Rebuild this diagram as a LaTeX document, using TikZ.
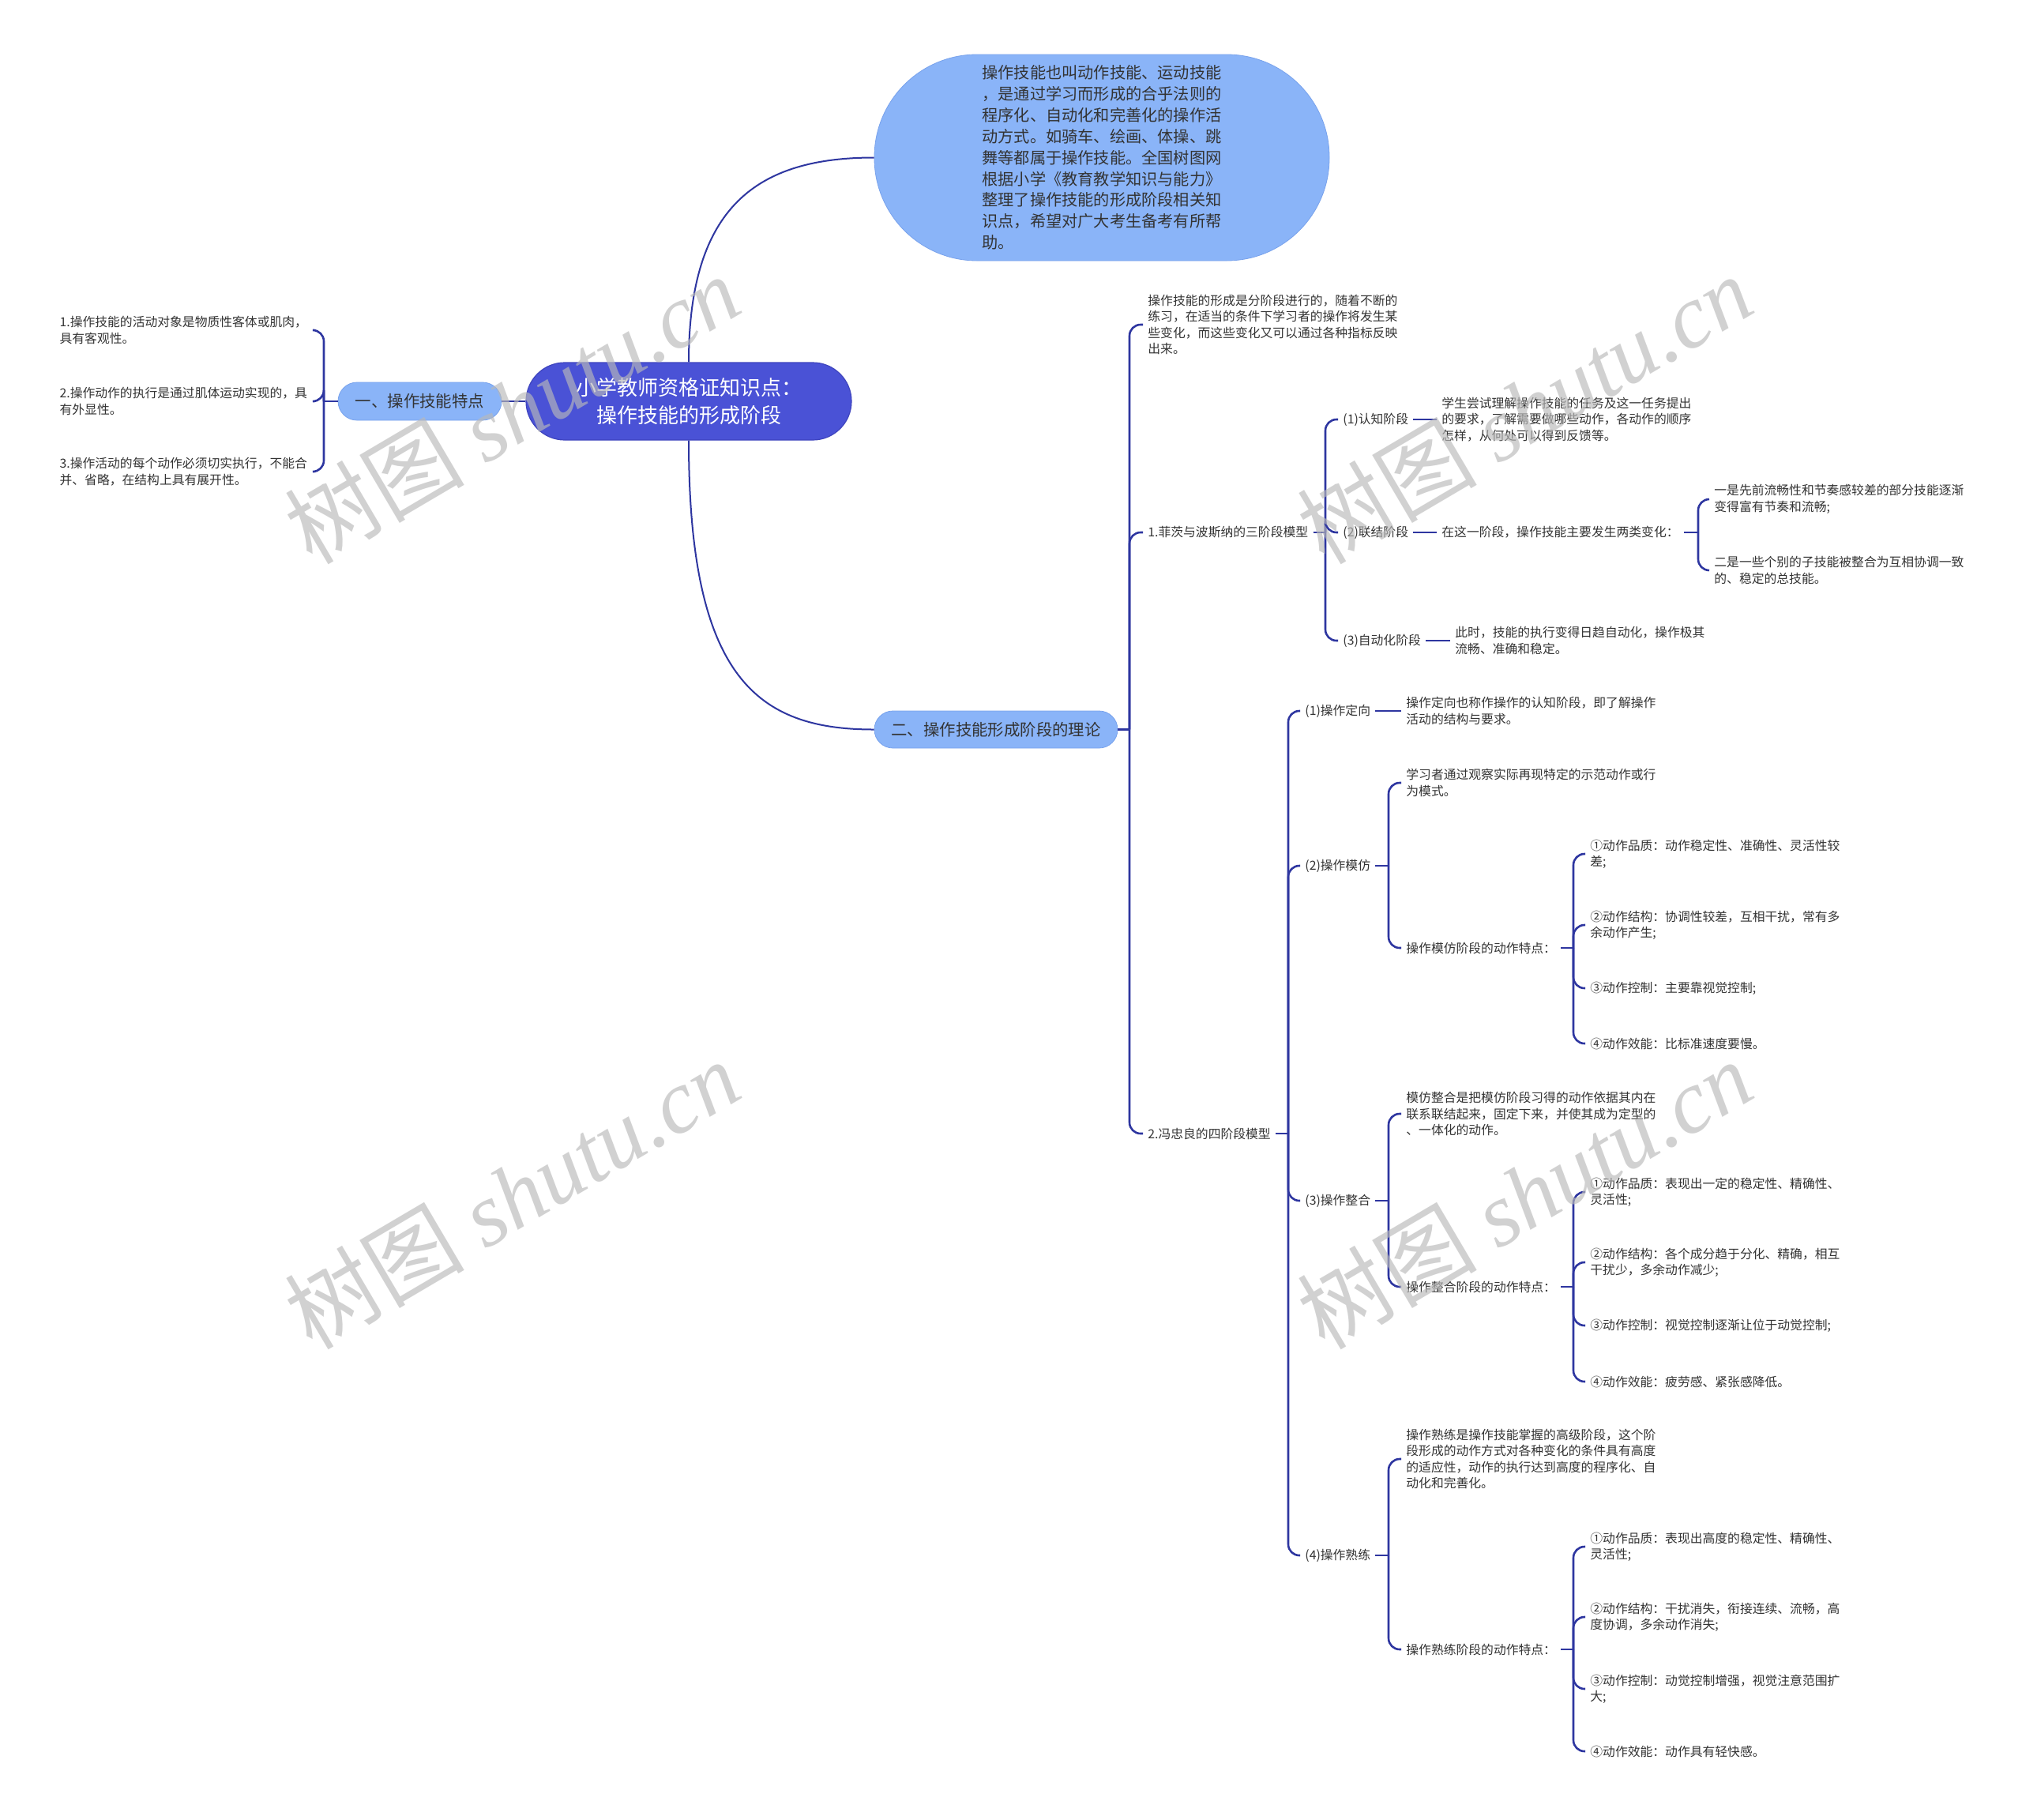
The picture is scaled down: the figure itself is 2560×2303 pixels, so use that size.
\documentclass[tikz,border=0pt]{standalone}
\usepackage{fontspec}
\setmainfont{Noto Sans CJK SC}
\newfontfamily\wmserif{Liberation Serif}
\usetikzlibrary{calc}
\definecolor{linec}{RGB}{46,54,160}
\definecolor{rootc}{RGB}{74,82,214}
\definecolor{rootb}{RGB}{62,68,190}
\definecolor{lightc}{RGB}{138,180,248}
\definecolor{lightb}{RGB}{120,162,236}
\definecolor{txtc}{RGB}{51,51,51}
\newcommand\rbk[3]{\draw[conn] (#1.east) -- (#3 |- #1.east);\draw[conn,rounded corners=7pt] (#3 |- #1.east) |- (#2.west);}
\newcommand\lbk[3]{\draw[conn] (#1.west) -- (#3 |- #1.west);\draw[conn,rounded corners=7pt] (#3 |- #1.west) |- (#2.east);}
\begin{document}
\begin{tikzpicture}[x=0.5pt,y=-0.5pt,
  conn/.style={draw=linec,line width=1.3pt},
  mainconn/.style={draw=linec,line width=1pt},
  leaf/.style={anchor=west,align=left,inner xsep=3pt,inner ysep=1pt,text=txtc,font=\fontsize{7.9pt}{10.2pt}\selectfont},
  leafl/.style={leaf,anchor=east,text width=158pt},
  rootnode/.style={draw=rootb,fill=rootc,text=white,line width=0.6pt,minimum width=206pt,minimum height=49pt,rounded corners=24.5pt,align=center,font=\fontsize{13pt}{17.5pt}\selectfont},
  subnode/.style={draw=lightb,fill=lightc,text=txtc,line width=0.4pt,minimum height=24pt,rounded corners=12pt,align=center,font=\fontsize{10.2pt}{12pt}\selectfont},
  wm/.style={text=gray!55,text opacity=0.65,rotate=30.5,font=\fontsize{57pt}{57pt}\selectfont}
]
\fill[white] (0,0) rectangle (2560,2303);
\useasboundingbox (0,0) rectangle (2560,2303);

% bracket coordinates
\coordinate (bL) at (410,0);
\coordinate (bTwo) at (1430,0);
\coordinate (bFitts) at (1678,0);
\coordinate (bF2) at (2150,0);
\coordinate (bFeng) at (1631,0);
\coordinate (bG) at (1758,0);
\coordinate (bGT) at (1992,0);

% main nodes
\node[rootnode] (root) at (872,508) {小学教师资格证知识点：\\操作技能的形成阶段};
\node[draw=lightb,fill=lightc,line width=0.4pt,minimum width=288pt,minimum height=130.5pt,rounded corners=65pt,align=left,text=txtc,font=\fontsize{10.1pt}{13.45pt}\selectfont] (intro) at (1395,199.5) {操作技能也叫动作技能、运动技能\\，是通过学习而形成的合乎法则的\\程序化、自动化和完善化的操作活\\动方式。如骑车、绘画、体操、跳\\舞等都属于操作技能。全国树图网\\根据小学《教育教学知识与能力》\\整理了操作技能的形成阶段相关知\\识点，希望对广大考生备考有所帮\\助。\hspace*{5pt}};
\node[subnode,minimum width=103.5pt] (one) at (531.5,508) {一、操作技能特点};
\node[subnode,minimum width=154pt,minimum height=23.5pt,rounded corners=11.75pt] (two) at (1261,923.5) {二、操作技能形成阶段的理论};

% left leaves
\node[leafl] (l1) at (398,418) {1.操作技能的活动对象是物质性客体或肌肉，\\具有客观性。};
\node[leafl] (l2) at (398,508) {2.操作动作的执行是通过肌体运动实现的，具\\有外显性。};
\node[leafl] (l3) at (398,597) {3.操作活动的每个动作必须切实执行，不能合\\并、省略，在结构上具有展开性。};

% right level 2
\node[leaf] (t0) at (1447,411) {操作技能的形成是分阶段进行的，随着不断的\\练习，在适当的条件下学习者的操作将发生某\\些变化，而这些变化又可以通过各种指标反映\\出来。};
\node[leaf] (fitts) at (1447,674) {1.菲茨与波斯纳的三阶段模型};
\node[leaf] (feng) at (1447,1435) {2.冯忠良的四阶段模型};

% Fitts
\node[leaf] (f1) at (1694,531) {(1)认知阶段};
\node[leaf] (f2) at (1694,674) {(2)联结阶段};
\node[leaf] (f3) at (1694,811) {(3)自动化阶段};
\node[leaf] (f1t) at (1819,531) {学生尝试理解操作技能的任务及这一任务提出\\的要求，了解需要做哪些动作，各动作的顺序\\怎样，从何处可以得到反馈等。};
\node[leaf] (f2t) at (1819,674) {在这一阶段，操作技能主要发生两类变化：};
\node[leaf] (f2a) at (2164,632) {一是先前流畅性和节奏感较差的部分技能逐渐\\变得富有节奏和流畅;};
\node[leaf] (f2b) at (2164,722) {二是一些个别的子技能被整合为互相协调一致\\的、稳定的总技能。};
\node[leaf] (f3t) at (1836,811) {此时，技能的执行变得日趋自动化，操作极其\\流畅、准确和稳定。};

% Feng
\node[leaf] (g1) at (1646,900) {(1)操作定向};
\node[leaf] (g2) at (1646,1096) {(2)操作模仿};
\node[leaf] (g3) at (1646,1520) {(3)操作整合};
\node[leaf] (g4) at (1646,1969) {(4)操作熟练};
\node[leaf] (g1t) at (1774,900) {操作定向也称作操作的认知阶段，即了解操作\\活动的结构与要求。};

\node[leaf] (g2a) at (1774,991) {学习者通过观察实际再现特定的示范动作或行\\为模式。};
\node[leaf] (g2b) at (1774,1200) {操作模仿阶段的动作特点：};
\node[leaf] (g2b1) at (2007,1081) {①动作品质：动作稳定性、准确性、灵活性较\\差;};
\node[leaf] (g2b2) at (2007,1171) {②动作结构：协调性较差，互相干扰，常有多\\余动作产生;};
\node[leaf] (g2b3) at (2007,1251) {③动作控制：主要靠视觉控制;};
\node[leaf] (g2b4) at (2007,1321) {④动作效能：比标准速度要慢。};

\node[leaf] (g3a) at (1774,1410) {模仿整合是把模仿阶段习得的动作依据其内在\\联系联结起来，固定下来，并使其成为定型的\\、一体化的动作。};
\node[leaf] (g3b) at (1774,1629) {操作整合阶段的动作特点：};
\node[leaf] (g3b1) at (2007,1509) {①动作品质：表现出一定的稳定性、精确性、\\灵活性;};
\node[leaf] (g3b2) at (2007,1598) {②动作结构：各个成分趋于分化、精确，相互\\干扰少，多余动作减少;};
\node[leaf] (g3b3) at (2007,1678) {③动作控制：视觉控制逐渐让位于动觉控制;};
\node[leaf] (g3b4) at (2007,1749) {④动作效能：疲劳感、紧张感降低。};

\node[leaf] (g4a) at (1774,1847) {操作熟练是操作技能掌握的高级阶段，这个阶\\段形成的动作方式对各种变化的条件具有高度\\的适应性，动作的执行达到高度的程序化、自\\动化和完善化。};
\node[leaf] (g4b) at (1774,2088) {操作熟练阶段的动作特点：};
\node[leaf] (g4b1) at (2007,1958) {①动作品质：表现出高度的稳定性、精确性、\\灵活性;};
\node[leaf] (g4b2) at (2007,2047) {②动作结构：干扰消失，衔接连续、流畅，高\\度协调，多余动作消失;};
\node[leaf] (g4b3) at (2007,2138) {③动作控制：动觉控制增强，视觉注意范围扩\\大;};
\node[leaf] (g4b4) at (2007,2217) {④动作效能：动作具有轻快感。};

% main connectors
\draw[mainconn] (root.north) .. controls (872,260) and (960,199.5) .. (intro.west);
\draw[mainconn] (root.south) .. controls (872,860) and (960,923.5) .. (two.west);
\draw[mainconn] (root.west) -- (one.east);

% left brackets
\lbk{one}{l1}{bL}
\lbk{one}{l2}{bL}
\lbk{one}{l3}{bL}

% right brackets
\rbk{two}{t0}{bTwo}
\rbk{two}{fitts}{bTwo}
\rbk{two}{feng}{bTwo}

\rbk{fitts}{f1}{bFitts}
\rbk{fitts}{f2}{bFitts}
\rbk{fitts}{f3}{bFitts}
\draw[conn] (f1.east) -- (f1t.west);
\draw[conn] (f2.east) -- (f2t.west);
\draw[conn] (f3.east) -- (f3t.west);
\rbk{f2t}{f2a}{bF2}
\rbk{f2t}{f2b}{bF2}

\rbk{feng}{g1}{bFeng}
\rbk{feng}{g2}{bFeng}
\rbk{feng}{g3}{bFeng}
\rbk{feng}{g4}{bFeng}
\draw[conn] (g1.east) -- (g1t.west);

\rbk{g2}{g2a}{bG}
\rbk{g2}{g2b}{bG}
\rbk{g2b}{g2b1}{bGT}
\rbk{g2b}{g2b2}{bGT}
\rbk{g2b}{g2b3}{bGT}
\rbk{g2b}{g2b4}{bGT}

\rbk{g3}{g3a}{bG}
\rbk{g3}{g3b}{bG}
\rbk{g3b}{g3b1}{bGT}
\rbk{g3b}{g3b2}{bGT}
\rbk{g3b}{g3b3}{bGT}
\rbk{g3b}{g3b4}{bGT}

\rbk{g4}{g4a}{bG}
\rbk{g4}{g4b}{bG}
\rbk{g4b}{g4b1}{bGT}
\rbk{g4b}{g4b2}{bGT}
\rbk{g4b}{g4b3}{bGT}
\rbk{g4b}{g4b4}{bGT}

% watermarks
\node[wm] (wm1) at (648,518) {树图 {\wmserif\itshape shutu.cn}};
\node[wm] (wm2) at (1930,518) {树图 {\wmserif\itshape shutu.cn}};
\node[wm] (wm3) at (648,1512) {树图 {\wmserif\itshape shutu.cn}};
\node[wm] (wm4) at (1930,1512) {树图 {\wmserif\itshape shutu.cn}};
\end{tikzpicture}
\end{document}
